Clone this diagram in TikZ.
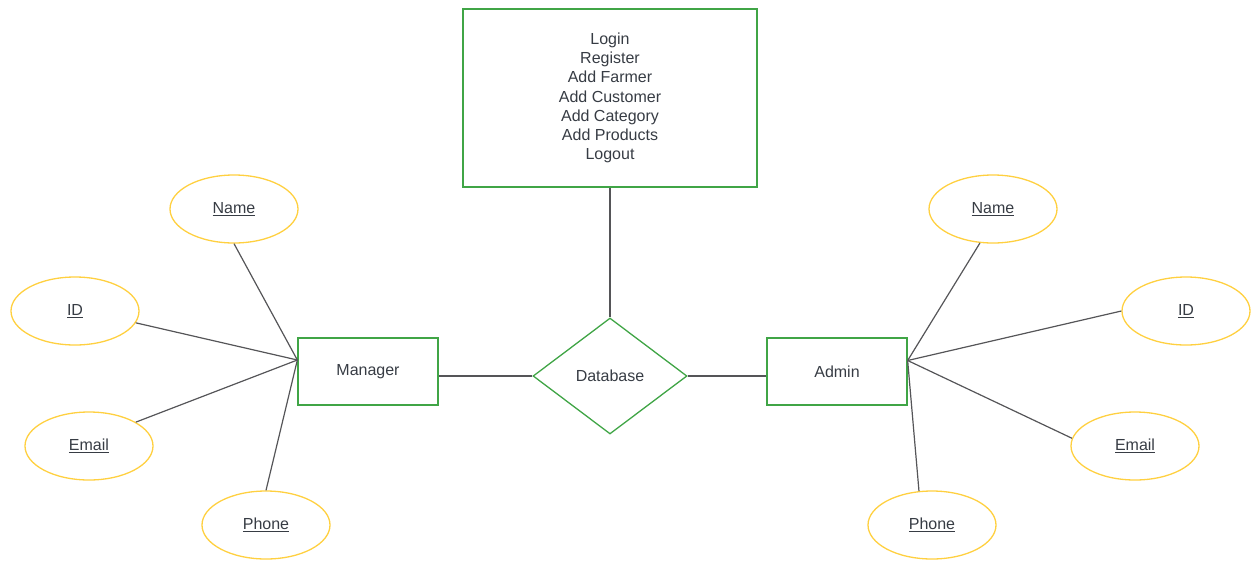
\documentclass[tikz,border=0pt]{standalone}
\usepackage{fontspec}
\setmainfont{Liberation Sans}
\usetikzlibrary{shapes.geometric}

\definecolor{boxgreen}{RGB}{64,165,70}
\definecolor{attryellow}{RGB}{255,208,64}
\definecolor{linegray}{RGB}{85,85,88}
\definecolor{textgray}{RGB}{55,60,68}

\tikzset{
    entity/.style={draw=boxgreen, line width=1.3pt, minimum width=140pt, minimum height=67pt, inner sep=0pt, text=textgray},
    attr/.style={ellipse, draw=attryellow, line width=1.3pt, minimum width=128pt, minimum height=68pt, inner sep=0pt, text=textgray},
    relation/.style={diamond, draw=boxgreen, line width=1.3pt, minimum width=154pt, minimum height=116pt, inner sep=0pt, text=textgray},
    link/.style={draw=linegray, line width=1.2pt}
}

\begin{document}
\begin{tikzpicture}[x=1pt, y=-1pt, font=\fontsize{16}{19.2}\selectfont]
    \useasboundingbox (0,0) rectangle (1255,563);

    % Define the operations box and the relationship
    \node[entity, minimum width=294pt, minimum height=178pt, align=center] (ops) at (610,98)
        {Login\\Register\\Add Farmer\\Add Customer\\Add Category\\Add Products\\Logout};
    \node[relation] (db) at (610,376) {Database};

    % Define the two entities
    \node[entity] (mgr) at (368,371.5) {Manager};
    \node[entity] (adm) at (837,371.5) {Admin};
    \coordinate[] (mhub) at ([yshift=11.5pt]mgr.west);
    \coordinate[] (ahub) at ([yshift=11pt]adm.east);

    % Attributes of the manager
    \node[attr] (mname) at (234,209) {\underline{Name}};
    \node[attr] (mid) at (75,311) {\underline{ID}};
    \node[attr] (memail) at (89,446) {\underline{Email}};
    \node[attr] (mphone) at (266,525) {\underline{Phone}};

    % Attributes of the admin
    \node[attr] (aname) at (993,209) {\underline{Name}};
    \node[attr] (aid) at (1186,311) {\underline{ID}};
    \node[attr] (aemail) at (1135,446) {\underline{Email}};
    \node[attr] (aphone) at (932,525) {\underline{Phone}};

    % Draw the connectors
    \draw[link] (ops) -- (db);
    \draw[link] (db.west) -- (db.west -| mgr.east);
    \draw[link] (db.east) -- (db.east -| adm.west);

    \draw[link] (mname.south) -- (mhub);
    \draw[link] (mid.-11) -- (mhub);
    \draw[link] (memail.27) -- (mhub);
    \draw[link] (mphone.north) -- (mhub);

    \draw[link] (aname.-111) -- (ahub);
    \draw[link] (aid.west) -- (ahub);
    \draw[link] (aemail.173) -- (ahub);
    \draw[link] (aphone.111) -- (ahub);
\end{tikzpicture}
\end{document}
